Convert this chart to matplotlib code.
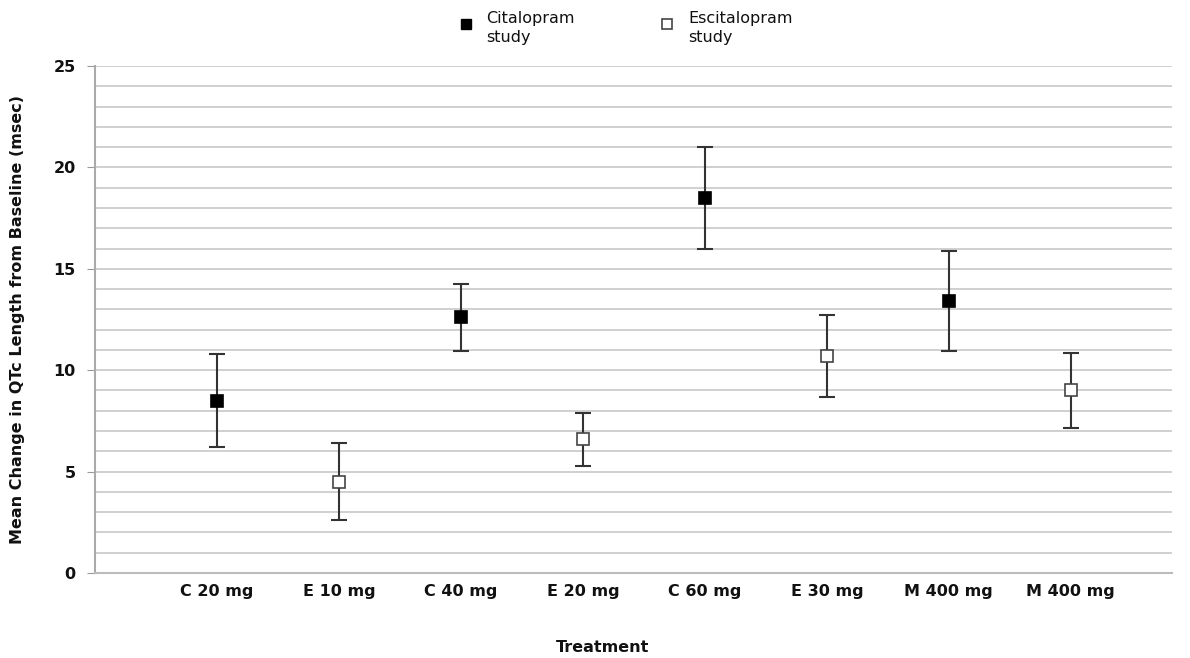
import matplotlib
matplotlib.use("Agg")
import matplotlib.pyplot as plt
import numpy as np

categories = ["C 20 mg", "E 10 mg", "C 40 mg", "E 20 mg", "C 60 mg", "E 30 mg", "M 400 mg", "M 400 mg"]
means = [8.5, 4.5, 12.6, 6.6, 18.5, 10.7, 13.4, 9.0]
upper = [10.8, 6.4, 14.25, 7.9, 21.0, 12.7, 15.9, 10.85]
lower = [6.2, 2.6, 10.95, 5.3, 16.0, 8.7, 10.95, 7.15]
study = ["Citalopram", "Escitalopram", "Citalopram", "Escitalopram",
         "Citalopram", "Escitalopram", "Citalopram", "Escitalopram"]

plt.rcParams['font.family'] = ['DejaVu Sans']
fig = plt.figure(figsize=(11.9, 6.58), dpi=100)
ax = fig.add_axes([95/1190, 1-573/658, (1172-95)/1190, (573-66)/658])

x = np.arange(len(categories))
for i in range(len(categories)):
    filled = study[i] == "Citalopram"
    ax.errorbar(x[i], means[i], yerr=[[means[i]-lower[i]], [upper[i]-means[i]]],
                fmt='none', ecolor='#333333', elinewidth=1.5, capsize=6, capthick=1.5, zorder=3)
    ax.plot(x[i], means[i], marker='s', markersize=9,
            markerfacecolor='black' if filled else 'white',
            markeredgecolor='black' if filled else '#444444',
            markeredgewidth=1.2, linestyle='none', zorder=4)

ax.set_xlim(-1, 7.83)
ax.set_ylim(0, 25)
ax.set_yticks(np.arange(0, 26, 5))
ax.set_yticks(np.arange(0, 26, 1), minor=True)
ax.grid(axis='y', which='both', color='#c8c8c8', linewidth=1.2, zorder=0)
ax.set_axisbelow(True)
ax.set_xticks(x)
ax.set_xticklabels(categories, fontsize=11.5, fontweight='semibold', color='#111111')
ax.tick_params(axis='x', length=0, pad=8)
ax.tick_params(axis='y', which='major', length=6, color='#999999', labelsize=11.5, pad=8,
               labelcolor='#111111')
ax.tick_params(axis='y', which='minor', length=0)
for lab in ax.get_yticklabels():
    lab.set_fontweight('semibold')
for s in ['top', 'right']:
    ax.spines[s].set_visible(False)
ax.spines['left'].set_color('#aaaaaa')
ax.spines['left'].set_linewidth(1.5)
ax.spines['bottom'].set_color('#bbbbbb')
ax.spines['bottom'].set_linewidth(1.5)

fig.text(18/1190, 1-320/658, "Mean Change in QTc Length from Baseline (msec)", rotation=90,
         ha='center', va='center', fontsize=11.5, fontweight='bold', color='#111111')
fig.text(603/1190, 1-647/658, "Treatment", ha='center', va='center',
         fontsize=11.5, fontweight='bold', color='#111111')

# legend
fig.lines.append(plt.Line2D([466/1190], [1-24/658], marker='s', markersize=7,
                            markerfacecolor='black', markeredgecolor='black',
                            transform=fig.transFigure, linestyle='none'))
fig.lines.append(plt.Line2D([667/1190], [1-24/658], marker='s', markersize=7,
                            markerfacecolor='white', markeredgecolor='#444444', markeredgewidth=1.2,
                            transform=fig.transFigure, linestyle='none'))
fig.text(486/1190, 1-28/658, "Citalopram\nstudy", ha='left', va='center', fontsize=11.5,
         color='#111111', linespacing=1.3)
fig.text(688/1190, 1-28/658, "Escitalopram\nstudy", ha='left', va='center', fontsize=11.5,
         color='#111111', linespacing=1.3)

fig.savefig("out.png", dpi=100)
